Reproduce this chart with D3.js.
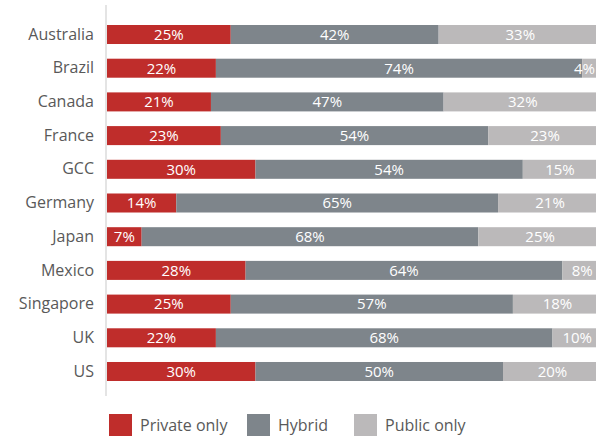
<!DOCTYPE html>
<html>
<head>
<meta charset="utf-8">
<script src="https://cdn.jsdelivr.net/npm/d3@7"></script>
<style>
  html, body { margin: 0; padding: 0; background: #fff; }
  svg { display: block; font-family: "Open Sans", "Noto Sans", sans-serif; }
</style>
</head>
<body>
<svg id="chart" width="596" height="436"></svg>
<script>
// Cloud deployment mix by market (share of respondents, %)
const categories = ["Australia", "Brazil", "Canada", "France", "GCC", "Germany",
                    "Japan", "Mexico", "Singapore", "UK", "US"];
const privateOnly = [25, 22, 21, 23, 30, 14, 7, 28, 25, 22, 30];
const hybrid      = [42, 74, 47, 54, 54, 65, 68, 64, 57, 68, 50];
const publicOnly  = [33, 4, 32, 23, 15, 21, 25, 8, 18, 10, 20];
const seriesNames = ["Private only", "Hybrid", "Public only"];
const seriesKeys  = ["private", "hybrid", "public"];
const seriesColors = ["#bf2d2b", "#7e858b", "#bbb9ba"];

const rows = categories.map((c, i) => ({
  country: c,
  private: privateOnly[i],
  hybrid: hybrid[i],
  public: publicOnly[i]
}));

const W = 596;
const svg = d3.select("#chart");

const x = d3.scaleLinear().domain([0, 100]).range([107, 602]);
const y = d3.scaleBand().domain(categories).range([25, 381])
  .paddingInner(0.436).paddingOuter(0);
const color = d3.scaleOrdinal().domain(seriesKeys).range(seriesColors);

const stacked = d3.stack().keys(seriesKeys)(rows);

// vertical baseline
svg.append("line")
  .attr("x1", 106).attr("x2", 106)
  .attr("y1", 5).attr("y2", 396)
  .attr("stroke", "#e4e4e4").attr("stroke-width", 2);

// stacked segments
const layers = svg.append("g").selectAll("g")
  .data(stacked)
  .join("g")
  .attr("fill", d => color(d.key));

layers.selectAll("rect")
  .data(d => d)
  .join("rect")
  .attr("x", d => x(d[0]))
  .attr("y", d => y(d.data.country))
  .attr("width", d => x(d[1]) - x(d[0]))
  .attr("height", y.bandwidth());

// value labels, centred in each segment and kept inside the canvas
svg.append("g").selectAll("g")
  .data(stacked)
  .join("g")
  .selectAll("text")
  .data(d => d.map(v => ({ v, key: d.key })))
  .join("text")
  .attr("y", d => y(d.v.data.country) + y.bandwidth() / 2)
  .attr("dy", "0.36em")
  .attr("text-anchor", "middle")
  .attr("fill", "#fff")
  .attr("font-size", 15)
  .text(d => d.v.data[d.key] + "%")
  .attr("x", function(d) {
    const cx = (x(d.v[0]) + x(d.v[1])) / 2;
    const half = this.getComputedTextLength() / 2;
    return Math.min(cx, W - half - 1);
  });

// category axis
const yAxis = svg.append("g")
  .attr("transform", "translate(106,0)")
  .call(d3.axisLeft(y).tickSize(0).tickPadding(12));
yAxis.select(".domain").remove();
yAxis.selectAll("text")
  .attr("font-size", 16)
  .attr("font-family", "'Open Sans', 'Noto Sans', sans-serif")
  .attr("fill", "#595959");

// legend
const legendX = [109, 247, 354];
const legend = svg.append("g").selectAll("g")
  .data(seriesKeys)
  .join("g")
  .attr("transform", (d, i) => `translate(${legendX[i]},414)`);
legend.append("rect")
  .attr("width", 23).attr("height", 22)
  .attr("fill", d => color(d));
legend.append("text")
  .attr("x", 31).attr("y", 11).attr("dy", "0.36em")
  .attr("font-size", 16)
  .attr("fill", "#595959")
  .text((d, i) => seriesNames[i]);
</script>
</body>
</html>
